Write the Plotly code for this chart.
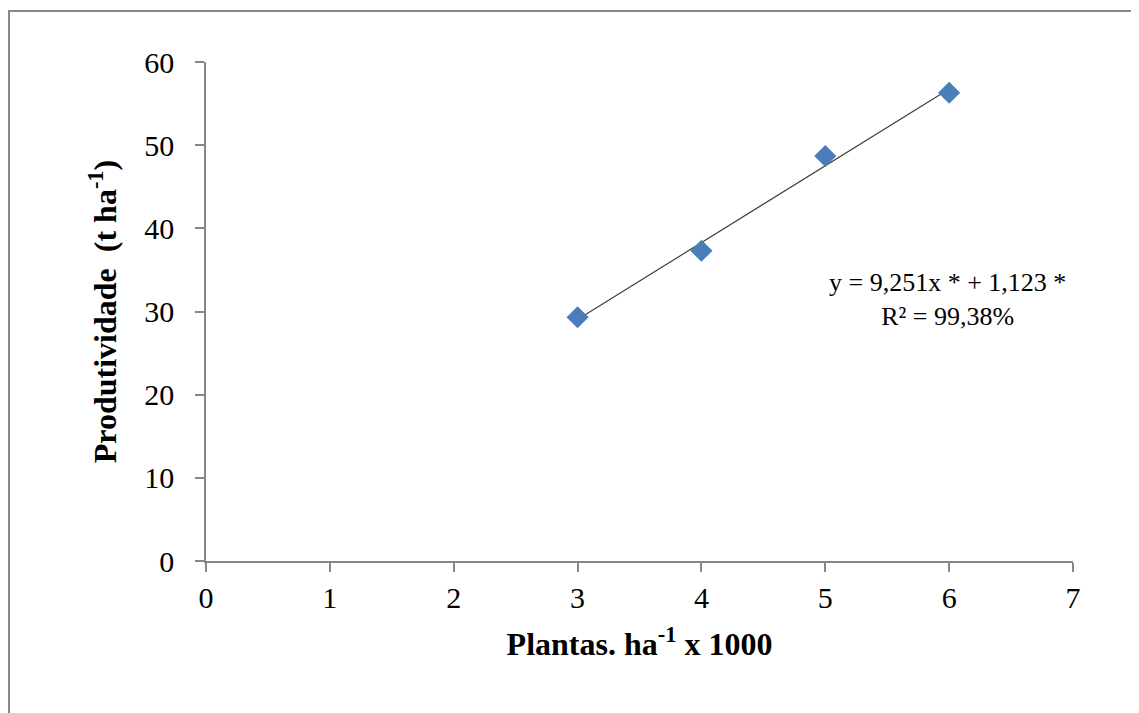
import numpy as np
import plotly.graph_objects as go

# Data
plantas = [3, 4, 5, 6]
produtividade = [29.3, 37.3, 48.7, 56.3]
x_ticks = [0, 1, 2, 3, 4, 5, 6, 7]
y_ticks = [0, 10, 20, 30, 40, 50, 60]
equation_text = "y = 9,251x * + 1,123 *<br>R² = 99,38%"

slope, intercept = np.polyfit(plantas, produtividade, 1)
trend_x = [min(plantas), max(plantas)]
trend_y = [slope * v + intercept for v in trend_x]

# page body has an 8px margin; figure is sized to fill the rest of the window
OFF = 8
W, H = 1139 - OFF, 713 - OFF
L, T = 206 - OFF, 62 - OFF
R = W - (1073 - OFF)
B = H - (561 - OFF)
pw, ph = W - L - R, H - T - B

fig = go.Figure()
fig.add_trace(go.Scatter(x=trend_x, y=trend_y, mode="lines",
                         line=dict(color="#3f3f3f", width=1.2), showlegend=False, hoverinfo="skip"))
fig.add_trace(go.Scatter(x=plantas, y=produtividade, mode="markers",
                         marker=dict(symbol="diamond", size=17, color="#4a7ebb",
                                     line=dict(width=0)), showlegend=False))

serif = "Liberation Serif, Times New Roman, serif"
axis_common = dict(showgrid=False, zeroline=False, showline=True, linecolor="#868686", linewidth=1.5,
                   ticks="outside", ticklen=9, tickwidth=1.5, tickcolor="#868686",
                   tickfont=dict(family=serif, size=30, color="#000000"))

fig.update_xaxes(range=[0, 7], tickvals=x_ticks, ticktext=[str(v) for v in x_ticks],
                 ticklabelstandoff=0,
                 title=dict(text="<b>Plantas. ha<sup>-1</sup> x 1000</b>", standoff=20,
                            font=dict(family=serif, size=32, color="#000000")),
                 **axis_common)
fig.update_yaxes(range=[0, 60], tickvals=y_ticks, ticktext=[str(v) for v in y_ticks],
                 ticklabelstandoff=15,
                 title=dict(text="<b>Produtividade  (t ha<sup>-1</sup>)</b>", standoff=18,
                            font=dict(family=serif, size=32, color="#000000")),
                 **axis_common)

fig.add_annotation(x=5.99, y=31.4, xref="x", yref="y", text=equation_text, showarrow=False,
                   font=dict(family=serif, size=26, color="#000000"), align="center")

# outer chart frame (extends past the bottom/right edges)
fig.add_shape(type="rect", xref="paper", yref="paper",
              x0=(9 - OFF - L) / pw, x1=(W + 10 - L) / pw,
              y0=-(H + 10 - (T + ph)) / ph, y1=1 + (T - (11 - OFF)) / ph,
              line=dict(color="#888888", width=2), fillcolor="rgba(0,0,0,0)", layer="below")

fig.update_layout(width=W, height=H, margin=dict(l=L, r=R, t=T, b=B),
                  paper_bgcolor="#ffffff", plot_bgcolor="#ffffff")

fig.write_html("out.html")
